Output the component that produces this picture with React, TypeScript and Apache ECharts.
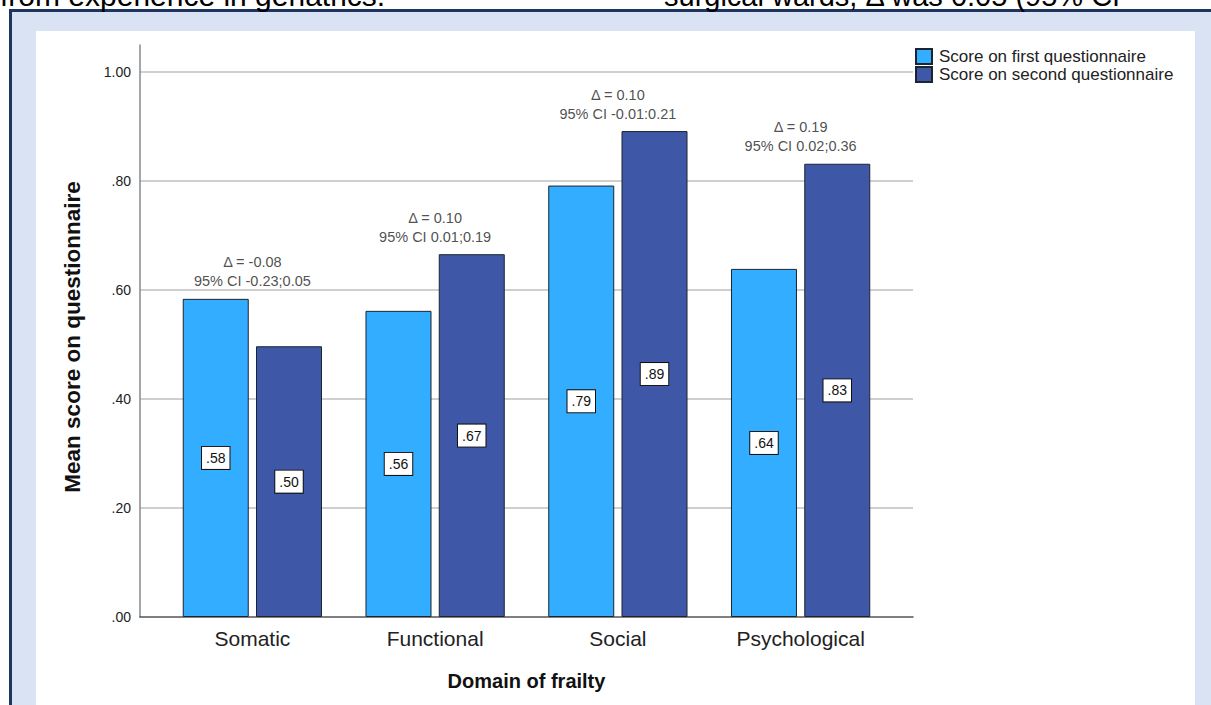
import React, { useEffect, useRef } from "react";
import * as echarts from "echarts";

const categories = ["Somatic", "Functional", "Social", "Psychological"];
const firstScores = [0.584, 0.562, 0.792, 0.639];
const secondScores = [0.497, 0.666, 0.892, 0.832];
const deltaLabels = ["Δ = -0.08", "Δ = 0.10", "Δ = 0.10", "Δ = 0.19"];
const ciLabels = ["95% CI -0.23;0.05", "95% CI 0.01;0.19", "95% CI -0.01:0.21", "95% CI 0.02;0.36"];
const seriesNames = ["Score on first questionnaire", "Score on second questionnaire"];
const topTexts = ["from experience in geriatrics.", "surgical wards, Δ was 0.05 (95% CI"];

const FONT = "'Liberation Sans', Arial, sans-serif";
const fmt = (v: number) => v.toFixed(2).replace(/^0/, "");

export default function App() {
  const ref = useRef<HTMLDivElement>(null);
  useEffect(() => {
    document.body.style.margin = "0";
    if (!ref.current) return;
    const chart = echarts.init(ref.current, undefined, { renderer: "svg" });
    const pairMax = categories.map((_, i) => Math.max(firstScores[i], secondScores[i]));
    const barLabel = {
      show: true,
      position: "inside",
      formatter: (p: any) => fmt(p.value),
      backgroundColor: "#fff",
      borderColor: "#111",
      borderWidth: 1,
      padding: [4, 4],
      fontSize: 14,
      color: "#111",
      fontFamily: FONT,
    };
    const option: any = {
      animation: false,
      backgroundColor: "#ffffff",
      textStyle: { fontFamily: FONT },
      graphic: [
        { type: "rect", z: 0, shape: { x: 9, y: 9, width: 1202, height: 696 }, style: { fill: "#1e3461" } },
        { type: "rect", z: 0, shape: { x: 12, y: 12, width: 1199, height: 693 }, style: { fill: "#dae3f3" } },
        { type: "rect", z: 0, shape: { x: 36, y: 31, width: 1159, height: 674 }, style: { fill: "#ffffff" } },
        { type: "text", z: 1, x: 0, y: 10, style: { text: topTexts[0], font: `30px ${FONT}`, fill: "#000", verticalAlign: "bottom", align: "left" } },
        { type: "text", z: 1, x: 664, y: 10, style: { text: topTexts[1], font: `29px ${FONT}`, fill: "#000", verticalAlign: "bottom", align: "left" } },
      ],
      legend: {
        data: seriesNames,
        orient: "vertical",
        left: 915,
        top: 48,
        itemWidth: 16,
        itemHeight: 15,
        itemGap: 1,
        padding: 0,
        icon: "rect",
        textStyle: { fontSize: 17, color: "#222", fontFamily: FONT, lineHeight: 16, padding: [0, 0, 0, 2] },
      },
      grid: [
        { left: 140, right: 298, top: 45, bottom: 88, containLabel: false },
        { left: 161, right: 319, top: 45, bottom: 88, containLabel: false },
      ],
      xAxis: [
        {
          gridIndex: 0,
          type: "value",
          min: 0,
          max: 1,
          axisLine: { show: true, lineStyle: { color: "#555", width: 1.5 } },
          axisTick: { show: false },
          axisLabel: { show: false },
          splitLine: { show: false },
        },
        {
          gridIndex: 1,
          type: "category",
          data: categories,
          axisLine: { show: false },
          axisTick: { show: false },
          axisLabel: { fontSize: 21, color: "#222", margin: 11, fontFamily: FONT },
          name: "Domain of frailty",
          nameLocation: "middle",
          nameGap: 54,
          nameTextStyle: { fontSize: 20, fontWeight: "bold", color: "#111", fontFamily: FONT },
        },
      ],
      yAxis: [
        {
          gridIndex: 0,
          type: "value",
          min: 0,
          max: 1.05,
          interval: 0.2,
          axisLine: { show: true, lineStyle: { color: "#888", width: 1.5 } },
          axisTick: { show: false },
          axisLabel: { formatter: (v: number) => fmt(v), fontSize: 14, color: "#222", margin: 9, showMaxLabel: false, fontFamily: FONT },
          splitLine: { show: true, showMaxLine: false, showMinLine: false, lineStyle: { color: "#cfcfcf", width: 2 } },
          name: "Mean score on questionnaire",
          nameLocation: "middle",
          nameGap: 56,
          nameTextStyle: { fontSize: 22.5, fontWeight: "bold", color: "#111", fontFamily: FONT, padding: [0, 12, 0, 0] },
        },
        { gridIndex: 1, type: "value", min: 0, max: 1.05, show: false },
      ],
      series: [
        {
          name: seriesNames[0],
          type: "bar",
          xAxisIndex: 1,
          yAxisIndex: 1,
          data: firstScores,
          barWidth: 66,
          barGap: "11%",
          itemStyle: { color: "#33adff", borderColor: "#1c2430", borderWidth: 1 },
          label: barLabel,
        },
        {
          name: seriesNames[1],
          type: "bar",
          xAxisIndex: 1,
          yAxisIndex: 1,
          data: secondScores,
          barWidth: 66,
          barGap: "11%",
          itemStyle: { color: "#3f57a7", borderColor: "#1c2430", borderWidth: 1 },
          label: barLabel,
        },
        {
          type: "scatter",
          xAxisIndex: 1,
          yAxisIndex: 1,
          data: pairMax,
          symbolSize: 0,
          silent: true,
          label: {
            show: true,
            position: "top",
            distance: 8,
            formatter: (p: any) => `${deltaLabels[p.dataIndex]}\n${ciLabels[p.dataIndex]}`,
            fontSize: 14.5,
            lineHeight: 19,
            color: "#222",
            align: "center",
            fontFamily: FONT,
          },
        },
      ],
    };
    chart.setOption(option);
    return () => chart.dispose();
  }, []);
  return <div ref={ref} style={{ width: 1211, height: 705 }} />;
}
